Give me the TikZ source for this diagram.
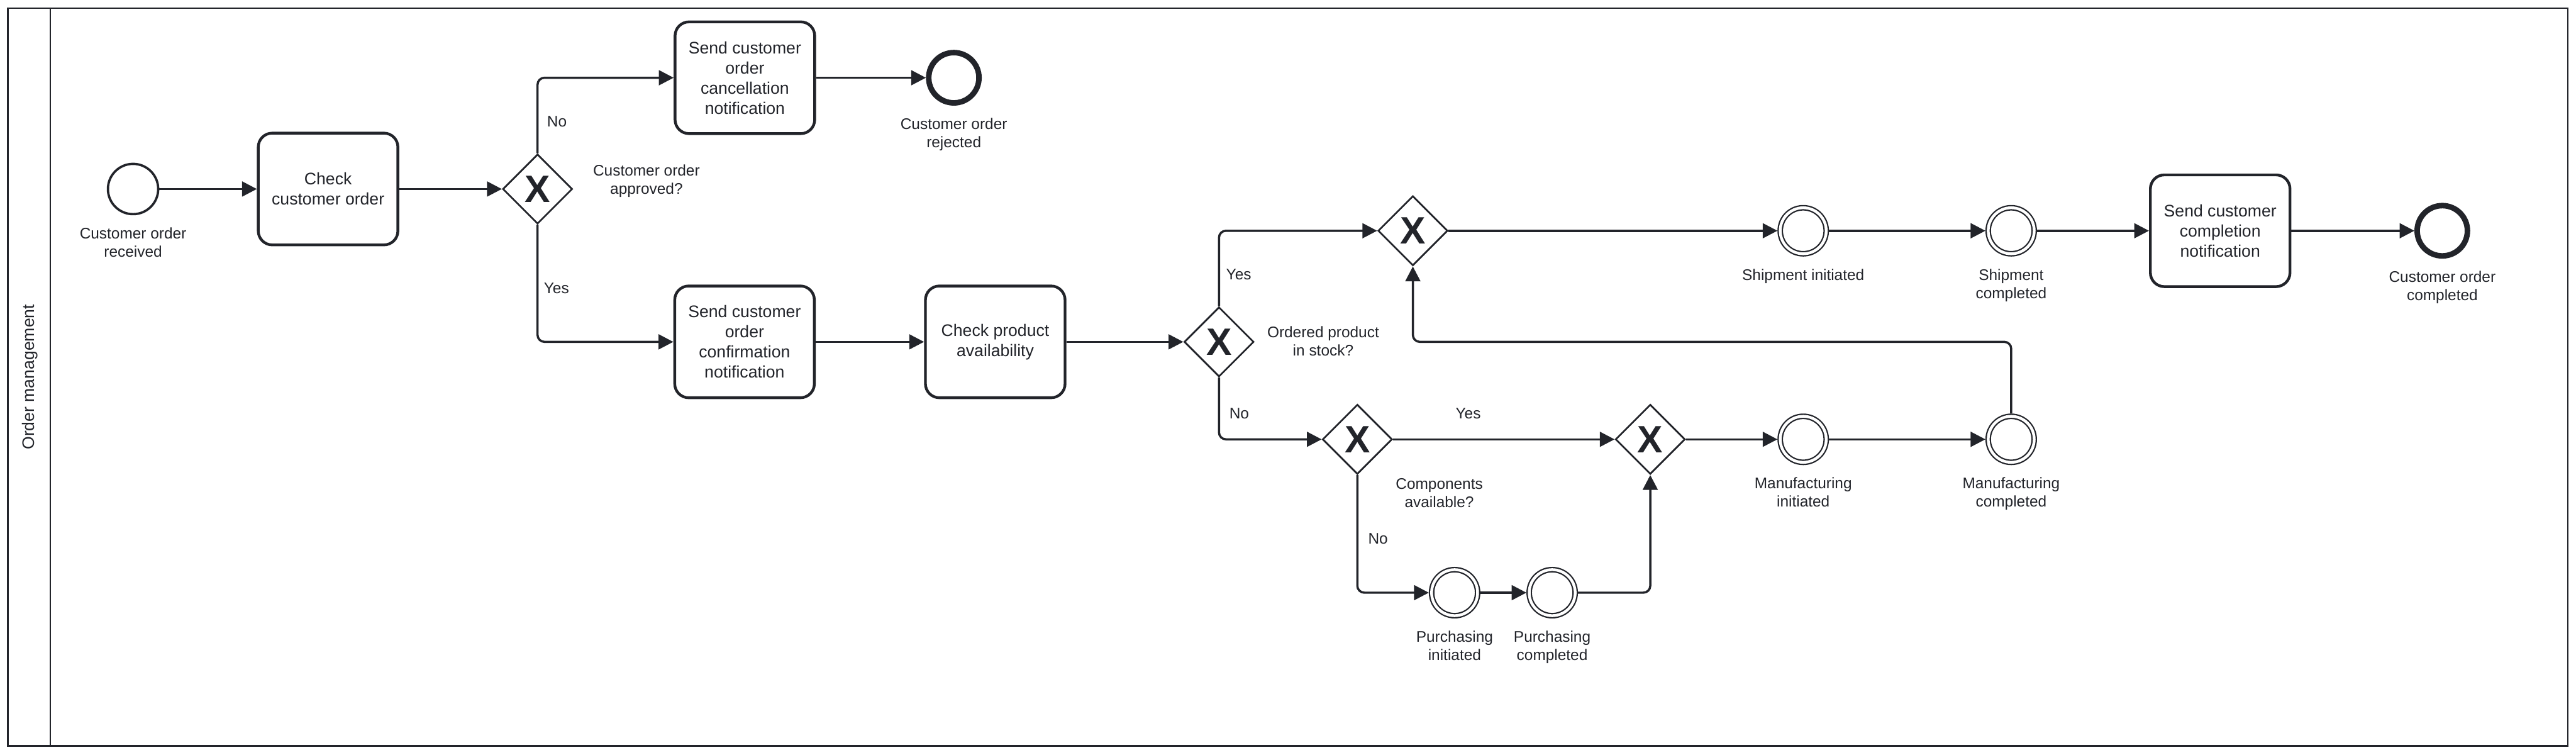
\documentclass[tikz,border=0pt]{standalone}
\usepackage{fontspec}
\setmainfont{Liberation Sans}
\usetikzlibrary{arrows.meta,positioning,shapes.geometric}
\definecolor{ink}{HTML}{22242A}
\newcommand{\taskfont}{\fontsize{14.5}{17.4}\selectfont}
\newcommand{\lblfont}{\fontsize{13.3}{15.9}\selectfont}
\newcommand{\lanefont}{\fontsize{14.5}{17.4}\selectfont}
\newcommand{\gwfont}{\fontsize{33}{33}\selectfont\bfseries}
\tikzset{
  pool/.style={draw=ink,line width=1.5pt},
  lane/.style={rotate=90,font=\lanefont,text=ink,inner sep=0pt},
  taskbox/.style={draw=ink,line width=2.4pt,rounded corners=0.425cm,minimum width=4.25cm,minimum height=3.4cm,align=center,font=\taskfont,text=ink,inner sep=0pt},
  gateway/.style={diamond,aspect=1,draw=ink,line width=1.5pt,minimum size=2.12cm,inner sep=0pt,font=\gwfont,text=ink},
  startev/.style={circle,draw=ink,line width=2pt,minimum size=1.53cm,inner sep=0pt},
  endev/.style={circle,draw=ink,line width=4.8pt,minimum size=1.53cm,inner sep=0pt},
  midev/.style={circle,draw=ink,line width=1.2pt,double=white,double distance=2.43pt,minimum size=1.40cm,inner sep=0pt,outer sep=2.4pt},
  evlabel/.style={align=center,font=\lblfont,text=ink,inner sep=0pt},
  cond/.style={font=\lblfont,text=ink,inner sep=0pt},
  flow/.style={-{Triangle[length=4.5mm,width=4.5mm]},line width=1.9pt,draw=ink,rounded corners=0.21cm}
}
\begin{document}
\begin{tikzpicture}[x=0.05cm,y=-0.05cm]
  \useasboundingbox (0,0) rectangle (1568,459);
  \draw[pool] (4.7,5) rectangle (1563,453.7);
  \draw[pool] (30.6,5) -- (30.6,453.7);
  \node[lane] (lane) at (18.1,229.4) {Order management};

  \node[startev] (start) at (81,115) {};
  \node[evlabel,below=0.37cm of start] (start-lbl) {Customer order\\received};
  \node[taskbox] (check) at (199.7,115) {Check\\customer order};
  \node[gateway] (gw1) at (327.2,115) {X};
  \node[evlabel] (gw1-lbl) at (393.5,110) {Customer order\\approved?};
  \node[cond] (gw1-no) at (339,74) {No};
  \node[cond] (gw1-yes) at (338.7,175.5) {Yes};

  \node[taskbox] (cancel) at (453.4,47.3) {Send customer\\order\\cancellation\\notification};
  \node[endev] (rej) at (580.6,47.3) {};
  \node[evlabel,below=0.37cm of rej] (rej-lbl) {Customer order\\rejected};

  \node[taskbox] (confirm) at (453.2,208) {Send customer\\order\\confirmation\\notification};
  \node[taskbox] (chkprod) at (605.8,208) {Check product\\availability};
  \node[gateway] (gw2) at (742,208) {X};
  \node[evlabel] (gw2-lbl) at (805.4,207.5) {Ordered product\\in stock?};
  \node[cond] (gw2-yes) at (754,167) {Yes};
  \node[cond] (gw2-no) at (754.3,251.7) {No};

  \node[gateway] (gw3) at (860,140.4) {X};
  \node[midev] (shipinit) at (1097.6,140.4) {};
  \node[evlabel,below=0.37cm of shipinit] (shipinit-lbl) {Shipment initiated};
  \node[midev] (shipdone) at (1224.2,140.4) {};
  \node[evlabel,below=0.37cm of shipdone] (shipdone-lbl) {Shipment\\completed};
  \node[taskbox] (sendcompl) at (1351.4,140.4) {Send customer\\completion\\notification};
  \node[endev] (done) at (1486.6,140.4) {};
  \node[evlabel,below=0.37cm of done] (done-lbl) {Customer order\\completed};

  \node[gateway] (gw4) at (826.2,267.3) {X};
  \node[evlabel] (gw4-lbl) at (876.1,300) {Components\\available?};
  \node[cond] (gw4-yes) at (893.7,251.6) {Yes};
  \node[cond] (gw4-no) at (838.8,327.9) {No};
  \node[gateway] (gw5) at (1004.5,267.3) {X};
  \node[midev] (minit) at (1097.6,267.3) {};
  \node[evlabel,below=0.37cm of minit] (minit-lbl) {Manufacturing\\initiated};
  \node[midev] (mdone) at (1224.2,267.3) {};
  \node[evlabel,below=0.37cm of mdone] (mdone-lbl) {Manufacturing\\completed};

  \node[midev] (pinit) at (885.4,360.6) {};
  \node[evlabel,below=0.37cm of pinit] (pinit-lbl) {Purchasing\\initiated};
  \node[midev] (pdone) at (944.8,360.6) {};
  \node[evlabel,below=0.37cm of pdone] (pdone-lbl) {Purchasing\\completed};

  \draw[flow] (start.east) -- (check.west);
  \draw[flow] (check.east) -- (gw1.west);
  \draw[flow] (gw1.north) |- (cancel.west);
  \draw[flow] (cancel.east) -- (rej.west);
  \draw[flow] (gw1.south) |- (confirm.west);
  \draw[flow] (confirm.east) -- (chkprod.west);
  \draw[flow] (chkprod.east) -- (gw2.west);
  \draw[flow] (gw2.north) |- (gw3.west);
  \draw[flow] (gw3.east) -- (shipinit.west);
  \draw[flow] (shipinit.east) -- (shipdone.west);
  \draw[flow] (shipdone.east) -- (sendcompl.west);
  \draw[flow] (sendcompl.east) -- (done.west);
  \draw[flow] (gw2.south) |- (gw4.west);
  \draw[flow] (gw4.east) -- (gw5.west);
  \draw[flow] (gw5.east) -- (minit.west);
  \draw[flow] (minit.east) -- (mdone.west);
  \draw[flow] (mdone.north) |- (gw3 |- gw2) -- (gw3.south);
  \draw[flow] (gw4.south) |- (pinit.west);
  \draw[flow] (pinit.east) -- (pdone.west);
  \draw[flow] (pdone.east) -| (gw5.south);
\end{tikzpicture}
\end{document}
